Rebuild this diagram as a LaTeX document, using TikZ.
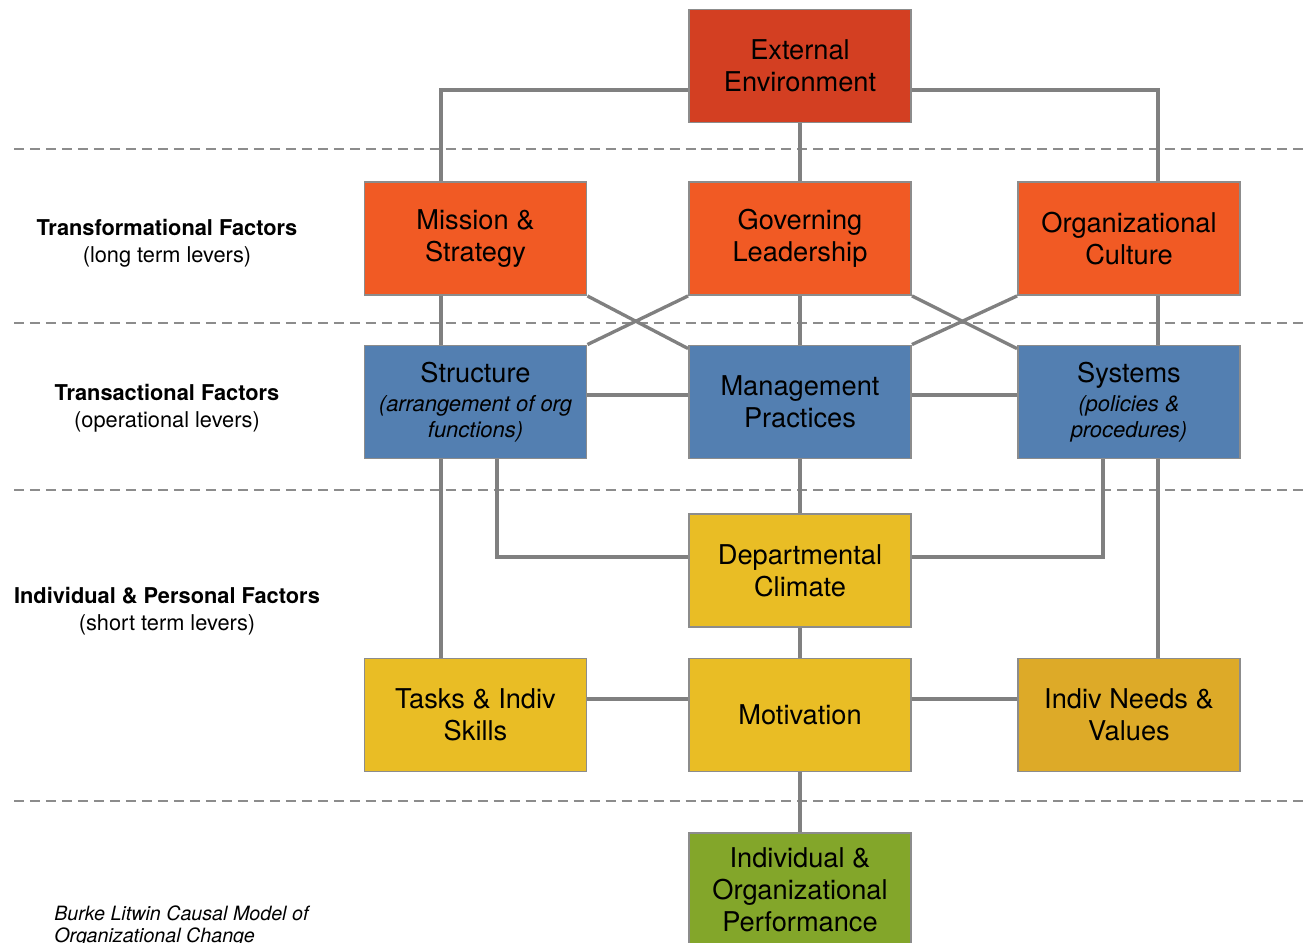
\documentclass[tikz,border=0pt]{standalone}
\usepackage{fontspec}
\setmainfont{TeX Gyre Heros}
\definecolor{extred}{HTML}{D33F22}
\definecolor{transorange}{HTML}{F15A24}
\definecolor{actblue}{HTML}{537FB1}
\definecolor{indyellow}{HTML}{E9BD25}
\definecolor{needgold}{HTML}{DDAA28}
\definecolor{perfgreen}{HTML}{83A62A}
\definecolor{edgegray}{HTML}{8C8C8C}
\definecolor{linkgray}{HTML}{808080}
\newcommand{\subtxt}[1]{{\fontsize{12.5}{14.8}\selectfont\itshape #1}}
\begin{document}
\begin{tikzpicture}[x=0.02cm,y=-0.02cm,
    box/.style={draw=edgegray,line width=1.1pt,minimum width=4.44cm,minimum height=2.26cm,inner sep=0pt,align=center,font=\fontsize{15.5}{18.2}\selectfont},
    link/.style={draw=linkgray,line width=1.9pt},
    sep/.style={draw=edgegray,line width=1.1pt,dash pattern=on 5.7pt off 3.4pt},
    level/.style={align=center,font=\fontsize{12.4}{15.4}\selectfont}]
  \useasboundingbox (0,0) rectangle (1303,943);
  \foreach \y in {149,323,490,801} \draw[sep] (14,\y) -- (1303,\y);
  \node[box,fill=extred] (ext) at (800,66) {External\\Environment};
  \node[box,fill=transorange] (mission) at (475.5,238.5) {Mission \&\\Strategy};
  \node[box,fill=transorange] (govern) at (800,238.5) {Governing\\Leadership};
  \node[box,fill=transorange] (culture) at (1129,238.5) {Organizational\\Culture};
  \node[box,fill=actblue] (struct) at (475.5,402) {Structure\\[-1.7pt]\subtxt{(arrangement of org}\\[-3.4pt]\subtxt{functions)}};
  \node[box,fill=actblue] (mgmt) at (800,402) {Management\\Practices};
  \node[box,fill=actblue] (systems) at (1129,402) {Systems\\[-1.7pt]\subtxt{(policies \&}\\[-3.4pt]\subtxt{procedures)}};
  \node[box,fill=indyellow] (climate) at (800,570.5) {Departmental\\Climate};
  \node[box,fill=indyellow] (tasks) at (475.5,715) {Tasks \& Indiv\\Skills};
  \node[box,fill=indyellow] (motiv) at (800,715) {Motivation};
  \node[box,fill=needgold] (needs) at (1129,715) {Indiv Needs \&\\Values};
  \node[box,fill=perfgreen] (perf) at (800,889.5) {Individual \&\\Organizational\\Performance};
  \node[level] (transform) at (167,243) {\textbf{Transformational Factors}\\(long term levers)};
  \node[level] (transact) at (167,408) {\textbf{Transactional Factors}\\(operational levers)};
  \node[level] (personal) at (167,611) {\textbf{Individual \& Personal Factors}\\(short term levers)};
  \node[anchor=north west,align=left,inner sep=0pt,font=\fontsize{11.2}{12.5}\selectfont\itshape] (caption) at (54,905) {Burke Litwin Causal Model of\\Organizational Change};
  \draw[link] (ext.west |- 0,90) -| (mission.north -| 441,0);
  \draw[link] (ext.east |- 0,90) -| (culture.north -| 1158,0);
  \draw[link] (ext) -- (govern) (govern) -- (mgmt) (mgmt) -- (climate) (climate) -- (motiv) (motiv) -- (perf);
  \draw[link] (mission.south -| 441,0) -- (struct.north -| 441,0) (culture.south -| 1158,0) -- (systems.north -| 1158,0);
  \draw[link] (mission.south east) -- ([yshift=-0.08cm]mgmt.north west) (govern.south west) -- (struct.north east);
  \draw[link] (govern.south east) -- ([yshift=-0.08cm]systems.north west) (culture.south west) -- (mgmt.north east);
  \draw[link] (struct.east |- 0,395) -- (mgmt.west |- 0,395) (mgmt.east |- 0,395) -- (systems.west |- 0,395);
  \draw[link] (struct.south -| 441,0) -- (tasks.north -| 441,0) (systems.south -| 1158,0) -- (needs.north -| 1158,0);
  \draw[link] (struct.south -| 497,0) |- (climate.west |- 0,557) (systems.south -| 1103,0) |- (climate.east |- 0,557);
  \draw[link] (tasks.east |- 0,699) -- (motiv.west |- 0,699) (motiv.east |- 0,699) -- (needs.west |- 0,699);
\end{tikzpicture}
\end{document}
